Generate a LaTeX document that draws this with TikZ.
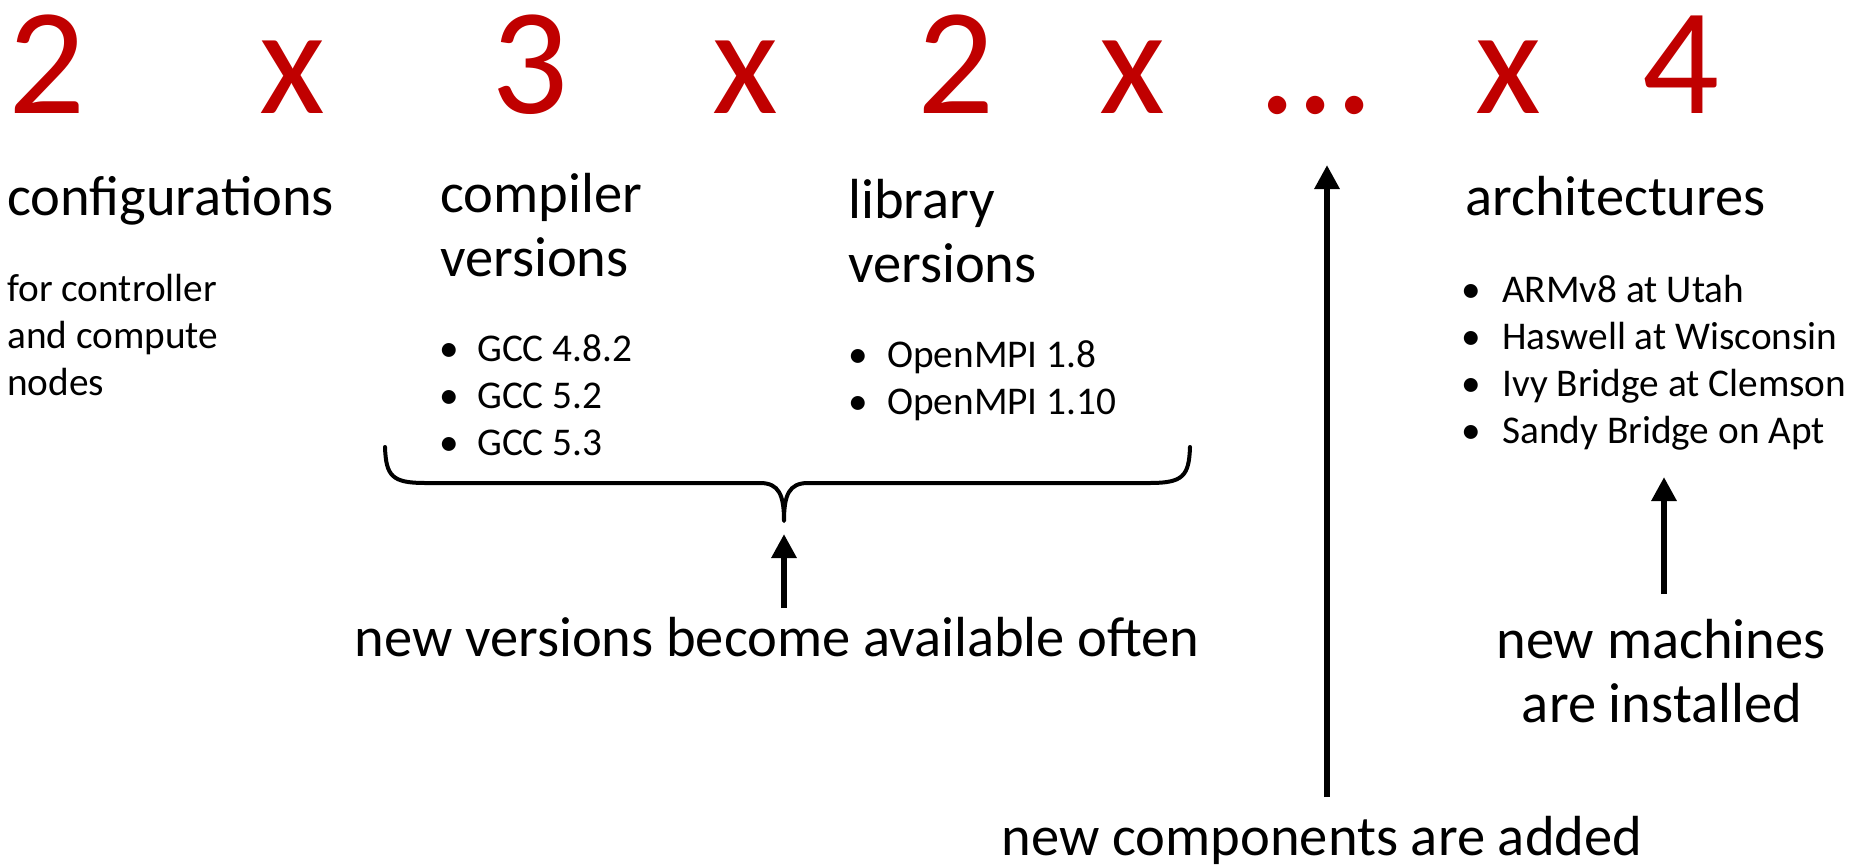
\documentclass[tikz,border=0pt]{standalone}
\usepackage{fontspec}
\setmainfont{Carlito}
\usetikzlibrary{arrows.meta}
\definecolor{bigred}{HTML}{C00000}
\tikzset{
  big/.style={text=bigred, font=\fontsize{152}{152}\selectfont, inner sep=0pt, anchor=base},
  head/.style={font=\fontsize{56.5}{64}\selectfont, inner sep=0pt, anchor=base west},
  small/.style={font=\fontsize{39.3}{47}\selectfont, inner sep=0pt, anchor=base west},
  bul/.style={font=\fontsize{39.3}{47}\selectfont, inner sep=0pt, anchor=base},
  note/.style={font=\fontsize{56.5}{64}\selectfont, inner sep=0pt, anchor=base},
  arr/.style={line width=6pt, -{Triangle[width=24pt,length=24pt]}},
  bracepath/.style={line width=4pt, line cap=round, line join=round},
}
\begin{document}
\begin{tikzpicture}[x=1pt,y=-1pt]
\useasboundingbox (0,0) rectangle (1869,867);
% big red factors
\node[big] (f1) at (47.5,113) {2};
\node[big] (m1) at (292,113) {x};
\node[big] (f2) at (530,113) {3};
\node[big] (m2) at (745,113) {x};
\node[big] (f3) at (956,113) {2};
\node[big] (m3) at (1132,113) {x};
\node[big] (f4) at (1316,113) {...};
\node[big] (m4) at (1508,113) {x};
\node[big] (f5) at (1681,113) {4};
% configurations
\node[head] (conf) at (7,215) {configurations};
\node[small] (conf1) at (7,301) {for controller};
\node[small] (conf2) at (7,348) {and compute};
\node[small] (conf3) at (7,395) {nodes};
% compiler
\node[head] (comp1) at (440,212) {compiler};
\node[head] (comp2) at (440,276) {versions};
\node[bul] (gb1) at (449,361) {•};
\node[small] (g1) at (477,361) {GCC 4.8.2};
\node[bul] (gb2) at (449,408) {•};
\node[small] (g2) at (477,408) {GCC 5.2};
\node[bul] (gb3) at (449,455) {•};
\node[small] (g3) at (477,455) {GCC 5.3};
% library
\node[head] (lib1) at (848,218) {library};
\node[head] (lib2) at (848,282) {versions};
\node[bul] (ob1) at (858,367) {•};
\node[small] (o1) at (887,367) {OpenMPI 1.8};
\node[bul] (ob2) at (858,414) {•};
\node[small] (o2) at (887,414) {OpenMPI 1.10};
% architectures
\node[head] (arch) at (1465,215) {architectures};
\node[bul] (ab1) at (1471,302) {•};
\node[small] (a1) at (1502,302) {ARMv8 at Utah};
\node[bul] (ab2) at (1471,349) {•};
\node[small] (a2) at (1502,349) {Haswell at Wisconsin};
\node[bul] (ab3) at (1471,396) {•};
\node[small] (a3) at (1502,396) {Ivy Bridge at Clemson};
\node[bul] (ab4) at (1471,443) {•};
\node[small] (a4) at (1502,443) {Sandy Bridge on Apt};
% brace
\coordinate (bl) at (385,447);
\coordinate (br) at (1190,447);
\coordinate (bm) at (784,521);
\draw[bracepath] (bl) .. controls (386,476) and (392,483) .. (425,483) -- (760,483)
   .. controls (779,483) and (784,495) .. (bm)
   .. controls (784,495) and (789,483) .. (808,483) -- (1150,483)
   .. controls (1183,483) and (1189,476) .. (br);
% notes
\node[note] (nv) at (777,656) {new versions become available often};
\coordinate (sa0) at (784,608);
\coordinate (sa1) at (784,534);
\draw[arr] (sa0) -- (sa1);
\node[note] (nm1) at (1661,658) {new machines};
\node[note] (nm2) at (1662,722) {are installed};
\coordinate (ra0) at (1664,594);
\coordinate (ra1) at (1664,477);
\draw[arr] (ra0) -- (ra1);
\node[note] (nc) at (1322,855) {new components are added};
\coordinate (ba0) at (1327,797);
\coordinate (ba1) at (1327,165);
\draw[arr] (ba0) -- (ba1);
\end{tikzpicture}
\end{document}
